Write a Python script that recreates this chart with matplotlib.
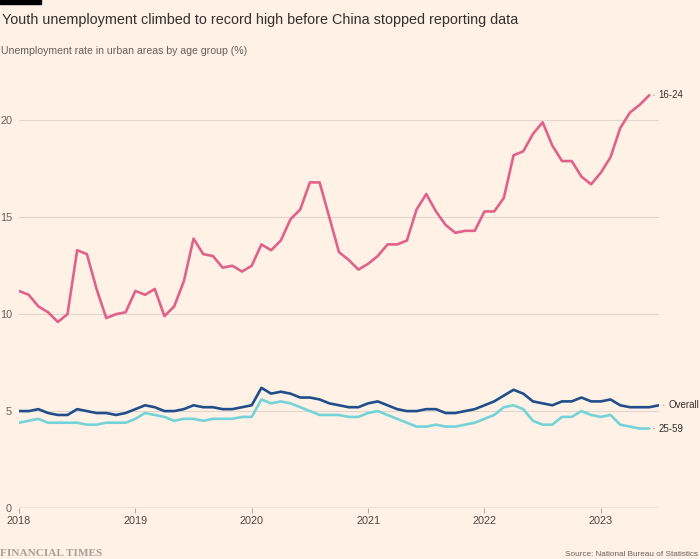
import matplotlib
matplotlib.use('Agg')
import matplotlib.pyplot as plt
import numpy as np
from matplotlib import font_manager
from matplotlib.patches import Rectangle

# monthly data, Jan 2018 onwards
start_year = 2018
youth_16_24 = [11.2, 11.0, 10.4, 10.1, 9.6, 10.0, 13.3, 13.1, 11.3, 9.8, 10.0, 10.1,
               11.2, 11.0, 11.3, 9.9, 10.4, 11.7, 13.9, 13.1, 13.0, 12.4, 12.5, 12.2,
               12.5, 13.6, 13.3, 13.8, 14.9, 15.4, 16.8, 16.8, 15.0, 13.2, 12.8, 12.3,
               12.6, 13.0, 13.6, 13.6, 13.8, 15.4, 16.2, 15.3, 14.6, 14.2, 14.3, 14.3,
               15.3, 15.3, 16.0, 18.2, 18.4, 19.3, 19.9, 18.7, 17.9, 17.9, 17.1, 16.7,
               17.3, 18.1, 19.6, 20.4, 20.8, 21.3]
overall = [5.0, 5.0, 5.1, 4.9, 4.8, 4.8, 5.1, 5.0, 4.9, 4.9, 4.8, 4.9,
           5.1, 5.3, 5.2, 5.0, 5.0, 5.1, 5.3, 5.2, 5.2, 5.1, 5.1, 5.2,
           5.3, 6.2, 5.9, 6.0, 5.9, 5.7, 5.7, 5.6, 5.4, 5.3, 5.2, 5.2,
           5.4, 5.5, 5.3, 5.1, 5.0, 5.0, 5.1, 5.1, 4.9, 4.9, 5.0, 5.1,
           5.3, 5.5, 5.8, 6.1, 5.9, 5.5, 5.4, 5.3, 5.5, 5.5, 5.7, 5.5,
           5.5, 5.6, 5.3, 5.2, 5.2, 5.2, 5.3]
age_25_59 = [4.4, 4.5, 4.6, 4.4, 4.4, 4.4, 4.4, 4.3, 4.3, 4.4, 4.4, 4.4,
             4.6, 4.9, 4.8, 4.7, 4.5, 4.6, 4.6, 4.5, 4.6, 4.6, 4.6, 4.7,
             4.7, 5.6, 5.4, 5.5, 5.4, 5.2, 5.0, 4.8, 4.8, 4.8, 4.7, 4.7,
             4.9, 5.0, 4.8, 4.6, 4.4, 4.2, 4.2, 4.3, 4.2, 4.2, 4.3, 4.4,
             4.6, 4.8, 5.2, 5.3, 5.1, 4.5, 4.3, 4.3, 4.7, 4.7, 5.0, 4.8,
             4.7, 4.8, 4.3, 4.2, 4.1, 4.1]
series_labels = ['16-24', 'Overall', '25-59']
year_ticks = [2018, 2019, 2020, 2021, 2022, 2023]
y_ticks = [0, 5, 10, 15, 20]

BG = '#fff1e5'
colors = ['#e0628a', '#1f4e8a', '#74d3d8']

names = {f.name for f in font_manager.fontManager.ttflist}
narrow = 'Liberation Sans Narrow' if 'Liberation Sans Narrow' in names else 'Liberation Sans'
sans = 'Liberation Sans'
serif = 'Liberation Serif'

fig = plt.figure(figsize=(7, 5.59), dpi=100, facecolor=BG)
ax = fig.add_axes([19 / 700, 51 / 559, 640 / 700, 426.4 / 559])
ax.set_facecolor(BG)

for vals, col, lab in zip([youth_16_24, overall, age_25_59], colors, series_labels):
    x = start_year + np.arange(len(vals)) / 12
    ax.plot(x, vals, color=col, lw=1.9, solid_joinstyle='round', solid_capstyle='round', zorder=3)
    ax.annotate(lab, xy=(x[-1], vals[-1]), xytext=(6.6, 0), textcoords='offset points',
                va='center', ha='left', fontsize=7.0, family=sans, color='#33302e',
                arrowprops=dict(arrowstyle='-', color='#a39a93', lw=0.7, shrinkA=1, shrinkB=3))

ax.set_xlim(2018, 2023.5)
ax.set_ylim(0, 22)
for s in ax.spines.values():
    s.set_visible(False)
ax.axhline(0, color='#b5aba3', lw=1, zorder=2)
ax.set_yticks(y_ticks)
ax.set_yticklabels([str(t) for t in y_ticks], family=sans, fontsize=7.8, color='#66605c')
ax.yaxis.grid(True, color='#e0d6cd', lw=0.8)
ax.set_axisbelow(True)
ax.tick_params(axis='y', length=0, pad=5)
ax.set_xticks(year_ticks)
ax.set_xticklabels([str(t) for t in year_ticks], family=sans, fontsize=7.8, color='#4d4845')
ax.tick_params(axis='x', length=3.6, color='#b5aba3', width=0.8, pad=2.5)

fig.patches.append(Rectangle((0, 1 - 3.6 / 559), 41 / 700, 3.6 / 559,
                             transform=fig.transFigure, color='#000000', zorder=5))
fig.text(2 / 700, 1 - 24 / 559, 'Youth unemployment climbed to record high before China stopped reporting data',
         family=narrow, fontsize=10.35, color='#33302e', va='baseline', ha='left')
fig.text(1 / 700, 1 - 54 / 559, 'Unemployment rate in urban areas by age group (%)',
         family=sans, fontsize=7.6, color='#66605c', va='baseline', ha='left')
fig.text(0, 1 - 556 / 559, 'FINANCIAL TIMES', family=serif, fontsize=8.1, color='#a79e97',
         va='baseline', ha='left', fontweight='bold')
fig.text(698 / 700, 1 - 556 / 559, 'Source: National Bureau of Statistics', family=sans,
         fontsize=5.9, color='#66605c', va='baseline', ha='right')

fig.savefig('out.png', dpi=100, facecolor=BG)
